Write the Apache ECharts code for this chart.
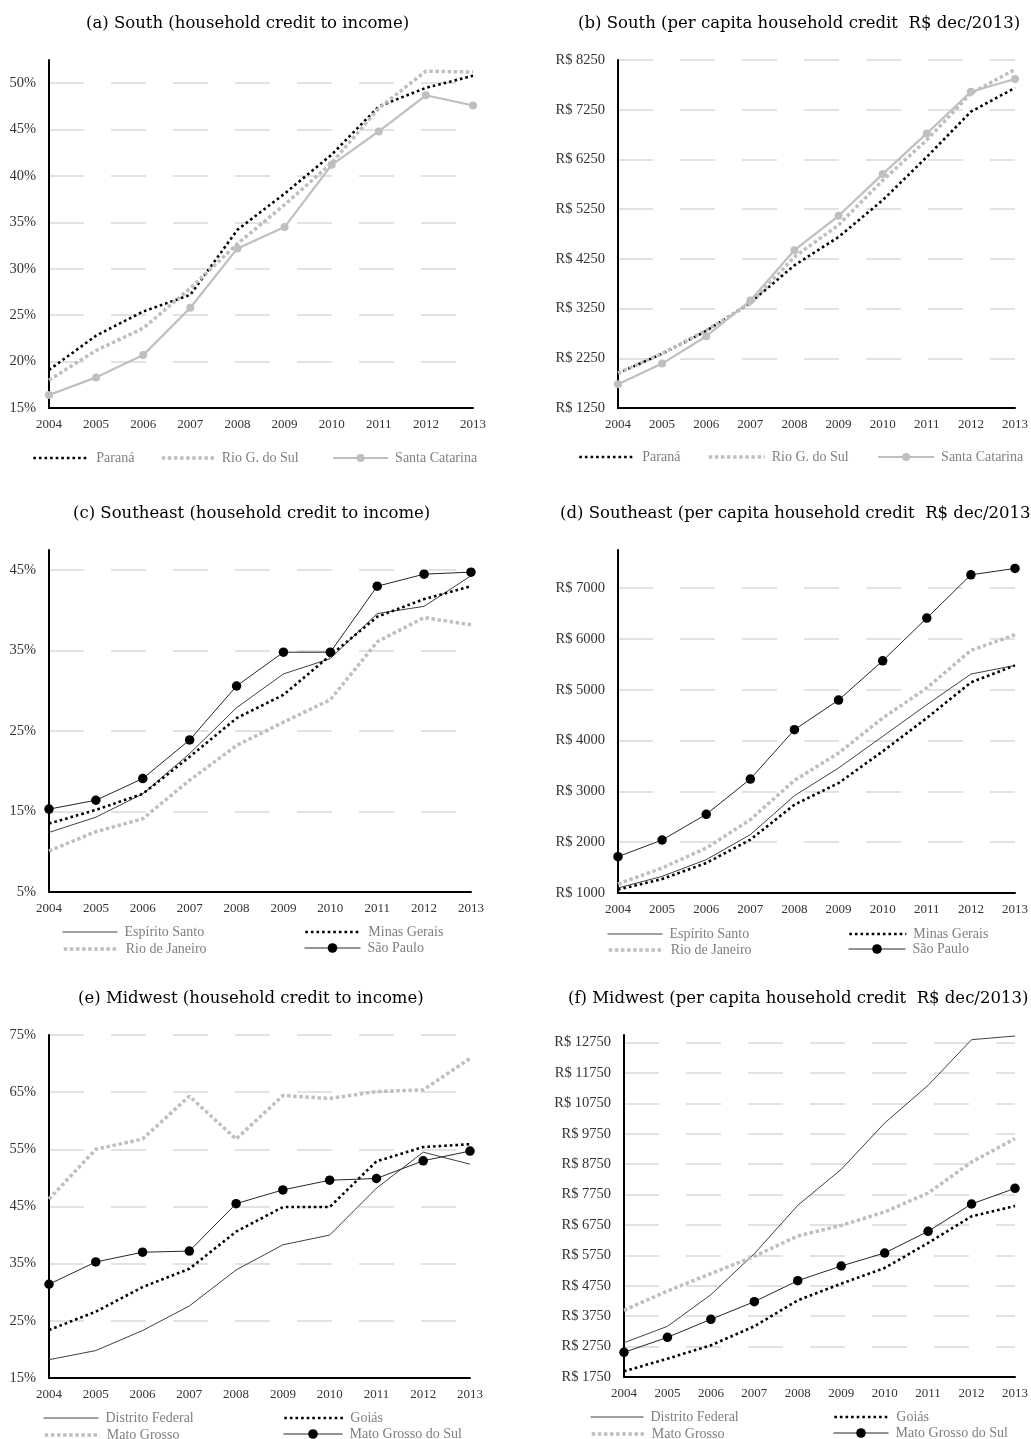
<!DOCTYPE html>
<html>
<head>
<meta charset="utf-8">
<script src="https://cdn.jsdelivr.net/npm/echarts@6/dist/echarts.min.js"></script>
<style>
html,body{margin:0;padding:0;background:#fff;}
#c{width:1031px;height:1439px;}
</style>
</head>
<body>
<div id="c"></div>
<script>
// ---------- DATA ----------
const years = ['2004','2005','2006','2007','2008','2009','2010','2011','2012','2013'];

// (a) South, household credit to income (%)
const a_parana        = [19.1, 22.8, 25.4, 27.2, 34.2, 38.1, 42.3, 47.5, 49.5, 50.8];
const a_rioGdoSul     = [18.0, 21.2, 23.6, 27.9, 32.7, 36.9, 41.4, 47.3, 51.3, 51.2];
const a_santaCatarina = [16.4, 18.3, 20.7, 25.8, 32.2, 34.5, 41.2, 44.8, 48.7, 47.6];

// (b) South, per capita household credit (R$ dec/2013)
const b_parana        = [1950, 2340, 2800, 3370, 4120, 4690, 5430, 6300, 7210, 7690];
const b_rioGdoSul     = [1955, 2345, 2815, 3350, 4290, 4930, 5830, 6640, 7580, 8060];
const b_santaCatarina = [1727, 2143, 2693, 3411, 4424, 5116, 5955, 6773, 7612, 7867];

// (c) Southeast, household credit to income (%)
const c_espiritoSanto = [12.4, 14.3, 17.2, 22.2, 27.9, 32.1, 34.0, 39.6, 40.5, 44.3];
const c_minasGerais   = [13.5, 15.2, 17.2, 21.8, 26.6, 29.5, 34.4, 39.2, 41.4, 43.0];
const c_rioDeJaneiro  = [10.1, 12.5, 14.1, 18.9, 23.2, 26.1, 28.9, 36.1, 39.1, 38.2];
const c_saoPaulo      = [15.3, 16.4, 19.1, 23.9, 30.6, 34.8, 34.8, 43.0, 44.5, 44.75];

// (d) Southeast, per capita household credit (R$ dec/2013)
const d_espiritoSanto = [1098, 1328, 1656, 2148, 2915, 3459, 4082, 4705, 5308, 5479];
const d_minasGerais   = [1066, 1275, 1590, 2049, 2738, 3164, 3787, 4443, 5144, 5479];
const d_rioDeJaneiro  = [1177, 1492, 1885, 2443, 3216, 3754, 4443, 5033, 5774, 6082];
const d_saoPaulo      = [1715, 2043, 2548, 3243, 4213, 4797, 5570, 6410, 7262, 7387];

// (e) Midwest, household credit to income (%)
const e_distritoFederal  = [18.2, 19.8, 23.3, 27.6, 33.9, 38.3, 40.0, 48.2, 54.5, 52.4];
const e_goias            = [23.4, 26.6, 30.9, 34.1, 40.6, 44.9, 44.9, 52.9, 55.4, 55.9];
const e_matoGrosso       = [46.3, 55.0, 56.8, 64.3, 56.8, 64.4, 63.9, 65.1, 65.4, 70.9];
const e_matoGrossoDoSul  = [31.4, 35.3, 37.0, 37.2, 45.5, 47.9, 49.6, 49.9, 53.0, 54.7];

// (f) Midwest, per capita household credit (R$ dec/2013)
const f_distritoFederal  = [2879, 3417, 4458, 5807, 7397, 8581, 10105, 11344, 12846, 12967];
const f_goias            = [1936, 2353, 2792, 3417, 4272, 4820, 5336, 6158, 7035, 7375];
const f_matoGrosso       = [3943, 4579, 5149, 5719, 6388, 6739, 7178, 7803, 8822, 9590];
const f_matoGrossoDoSul  = [2561, 3055, 3647, 4228, 4919, 5401, 5829, 6542, 7441, 7956];

// ---------- STYLE ----------
const SERIF = '"Liberation Serif", "Times New Roman", serif';
const TITLEF = '"DejaVu Serif", serif';
const GRAY = '#BFBFBF';

const styles = {
  blackDot: {color:'#000', lineStyle:{color:'#000', width:2.6, type:[2.6,3]}, symbol:'none'},
  grayDot:  {color:GRAY, lineStyle:{color:GRAY, width:3.5, type:[3.5,2.6]}, symbol:'none'},
  graySolidMk: {color:GRAY, lineStyle:{color:GRAY, width:2.2}, symbol:'circle', symbolSize:8},
  thinDark: {color:'#404040', lineStyle:{color:'#404040', width:1}, symbol:'none'},
  blackMk:  {color:'#000', lineStyle:{color:'#262626', width:1}, symbol:'circle', symbolSize:9.5}
};
const legendMarkH = {graySolidMk:10, blackMk:12};

const grids = [
  {left:49, top:60, width:424, height:348},
  {left:618, top:60, width:398, height:348},
  {left:49, top:550, width:422, height:342},
  {left:618, top:550, width:398, height:343},
  {left:49, top:1035, width:421, height:343},
  {left:624, top:1035, width:393, height:342}
];

const pct = v => v + '%';
const rs = v => 'R$ ' + v;
const yCfg = [
  {min:15, max:52.5, interval:5, fmt:pct, hideMax:true},
  {min:1250, max:8250, interval:1000, fmt:rs, hideMax:false},
  {min:5, max:47.5, interval:10, fmt:pct, hideMax:true},
  {min:1000, max:7750, interval:1000, fmt:rs, hideMax:true},
  {min:15, max:75, interval:10, fmt:pct, hideMax:false},
  {min:1750, max:13000, interval:1000, fmt:rs, hideMax:true}
];

const titles = [
  {text:'(a) South (household credit to income)', left:86, top:15},
  {text:'(b) South (per capita household credit  R$ dec/2013)', left:578, top:15},
  {text:'(c) Southeast (household credit to income)', left:73, top:505},
  {text:'(d) Southeast (per capita household credit  R$ dec/2013)', left:560, top:505},
  {text:'(e) Midwest (household credit to income)', left:78, top:990},
  {text:'(f) Midwest (per capita household credit  R$ dec/2013)', left:568, top:990}
];

// series definitions: [panel, name, data, style]
const seriesDefs = [
  [0,'Paraná',a_parana,'blackDot'],
  [0,'Rio G. do Sul',a_rioGdoSul,'grayDot'],
  [0,'Santa Catarina',a_santaCatarina,'graySolidMk'],
  [1,'Paraná',b_parana,'blackDot'],
  [1,'Rio G. do Sul',b_rioGdoSul,'grayDot'],
  [1,'Santa Catarina',b_santaCatarina,'graySolidMk'],
  [2,'Espírito Santo',c_espiritoSanto,'thinDark'],
  [2,'Minas Gerais',c_minasGerais,'blackDot'],
  [2,'Rio de Janeiro',c_rioDeJaneiro,'grayDot'],
  [2,'São Paulo',c_saoPaulo,'blackMk'],
  [3,'Espírito Santo',d_espiritoSanto,'thinDark'],
  [3,'Minas Gerais',d_minasGerais,'blackDot'],
  [3,'Rio de Janeiro',d_rioDeJaneiro,'grayDot'],
  [3,'São Paulo',d_saoPaulo,'blackMk'],
  [4,'Distrito Federal',e_distritoFederal,'thinDark'],
  [4,'Goiás',e_goias,'blackDot'],
  [4,'Mato Grosso',e_matoGrosso,'grayDot'],
  [4,'Mato Grosso do Sul',e_matoGrossoDoSul,'blackMk'],
  [5,'Distrito Federal',f_distritoFederal,'thinDark'],
  [5,'Goiás',f_goias,'blackDot'],
  [5,'Mato Grosso',f_matoGrosso,'grayDot'],
  [5,'Mato Grosso do Sul',f_matoGrossoDoSul,'blackMk']
];

// legend placements: [panel, seriesName, iconLeft, rowCenterY, iconWidth]
const legendDefs = [
  [0,'Paraná',32,456,56],[0,'Rio G. do Sul',160,456,53],[0,'Santa Catarina',332,456,55],
  [1,'Paraná',578,455,56],[1,'Rio G. do Sul',707,455,56],[1,'Santa Catarina',877,455,56],
  [2,'Espírito Santo',62,930,55],[2,'Minas Gerais',304,930,56],[2,'Rio de Janeiro',62,947,55],[2,'São Paulo',304,947,56],
  [3,'Espírito Santo',607,932,55],[3,'Minas Gerais',848,932,57],[3,'Rio de Janeiro',607,948,55],[3,'São Paulo',848,948,57],
  [4,'Distrito Federal',43,1416,55],[4,'Goiás',283,1416,59],[4,'Mato Grosso',43,1433,55],[4,'Mato Grosso do Sul',283,1433,59],
  [5,'Distrito Federal',590,1415,53],[5,'Goiás',833,1415,55],[5,'Mato Grosso',590,1432,53],[5,'Mato Grosso do Sul',833,1432,55]
];

// ---------- BUILD ----------
const option = {
  backgroundColor:'#fff',
  animation:false,
  title: titles.map(t => ({text:t.text, left:t.left, top:t.top, padding:0,
    textStyle:{fontFamily:TITLEF, fontSize:16.5, fontWeight:'normal', color:'#000'}})),
  grid: grids.map(g => Object.assign({containLabel:false}, g)),
  xAxis: grids.map((g,i) => ({
    gridIndex:i, type:'category', data:years, boundaryGap:false,
    axisLine:{show:true, onZero:false, lineStyle:{color:'#000', width:2}},
    axisTick:{show:false},
    axisLabel:{color:'#333', fontFamily:SERIF, fontSize:13, margin:10},
    splitLine:{show:false}
  })),
  yAxis: yCfg.map((c,i) => ({
    gridIndex:i, type:'value', min:c.min, max:c.max, interval:c.interval,
    axisLine:{show:true, lineStyle:{color:'#000', width:2}},
    axisTick:{show:false},
    axisLabel:{color:'#333', fontFamily:SERIF, fontSize:14.5, margin:13,
      formatter:c.fmt, showMaxLabel:!c.hideMax},
    splitLine:{show:true, showMaxLine:!c.hideMax, showMinLine:false,
      lineStyle:{color:'#D9D9D9', width:1.5, type:[35,27]}}
  })),
  legend: [],
  series: []
};

const styleOf = {};
seriesDefs.forEach(([p,name,data,st]) => {
  const s = styles[st];
  styleOf[name + '#' + p] = st;
  option.series.push(Object.assign({
    type:'line', name:name + '#' + p, data:data, xAxisIndex:p, yAxisIndex:p,
    legendHoverLink:false, silent:true, showSymbol:s.symbol !== 'none',
    symbolSize:s.symbolSize || 4, z: 2
  }, JSON.parse(JSON.stringify(s))));
});

legendDefs.forEach(([p,name,left,cy,w]) => {
  const key = name + '#' + p;
  const st = styleOf[key];
  const s = styles[st];
  const h = legendMarkH[st] || 10;
  const lg = {
    data:[key], left:left, top:cy-h/2, padding:0,
    itemWidth:w, itemHeight:h, selectedMode:false,
    formatter: n => n.split('#')[0],
    lineStyle:{width:s.lineStyle.width, type:s.lineStyle.type, color:s.lineStyle.color},
    textStyle:{color:'#7F7F7F', fontFamily:SERIF, fontSize:14, padding:[0,0,0,2]}
  };
  if (!legendMarkH[st]) lg.itemStyle = {opacity:0};
  option.legend.push(lg);
});

const chart = echarts.init(document.getElementById('c'), null, {renderer:'canvas', width:1031, height:1439});
chart.setOption(option);
</script>
</body>
</html>
